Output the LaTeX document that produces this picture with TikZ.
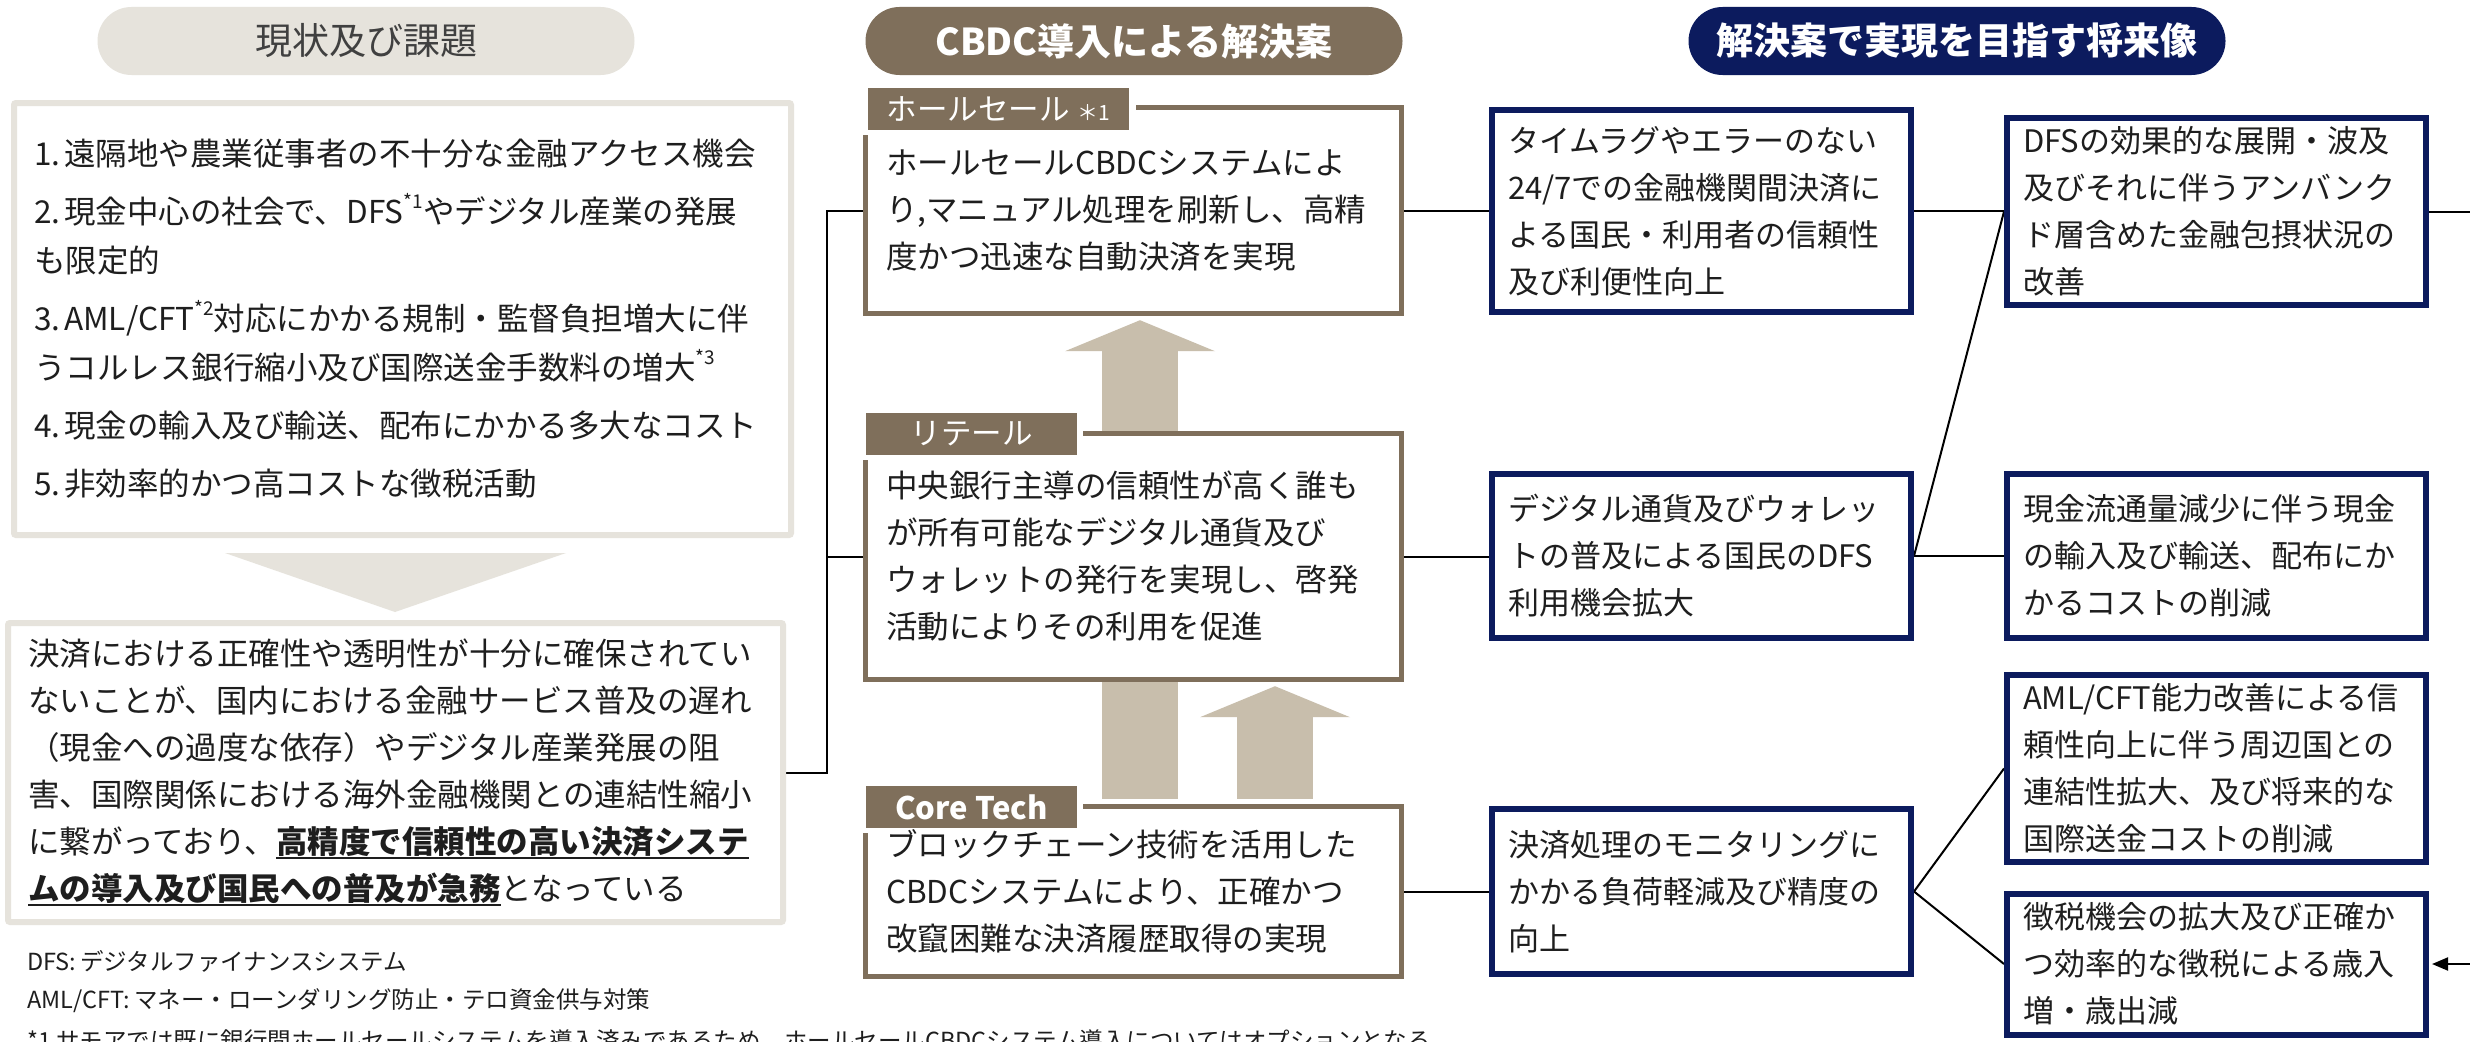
\documentclass[tikz,border=0pt]{standalone}
\usepackage{fontspec}
\setmainfont{Noto Sans CJK JP}
\usetikzlibrary{calc,arrows.meta,backgrounds}

\definecolor{paleline}{RGB}{230,227,220}
\definecolor{umber}{RGB}{127,111,91}
\definecolor{sand}{RGB}{200,190,172}
\definecolor{deepnavy}{RGB}{12,27,94}
\definecolor{ink}{RGB}{30,30,30}
\definecolor{graytext}{RGB}{64,64,64}

\newcommand{\bodyfont}{\fontsize{31.5pt}{47pt}\selectfont}
\newcommand{\supnote}[1]{\raisebox{0.5em}{\fontsize{19pt}{19pt}\selectfont #1}}
\newsavebox{\keybox}
\newcommand{\keyline}[1]{\leavevmode\sbox{\keybox}{\bfseries #1}\rlap{\rule[-6pt]{\wd\keybox}{2.5pt}}\usebox{\keybox}}

\tikzset{
  pill/.style={rounded corners=34pt, minimum width=537pt, minimum height=68pt, inner sep=0pt,
    font=\fontsize{37pt}{40pt}\selectfont},
  issuebox/.style={draw=paleline, line width=6pt, fill=white, rounded corners=2pt,
    inner xsep=20pt, inner ysep=0pt, align=left, font=\bodyfont, text=ink},
  cbdcbox/.style={fill=white, minimum width=535pt, text width=495pt, inner xsep=20pt,
    inner ysep=0pt, align=left, font=\bodyfont, text=ink},
  cbdcframe/.style={draw=umber, line width=5pt},
  tagbox/.style={fill=umber, text=white, anchor=north west, minimum height=42pt, inner sep=0pt,
    font=\fontsize{30.5pt}{32pt}\selectfont},
  goalbox/.style={draw=deepnavy, line width=6pt, fill=white, minimum width=419pt, text width=387pt,
    inner xsep=16pt, inner ysep=0pt, align=left, font=\fontsize{31pt}{47pt}\selectfont, text=ink},
  bigarrow/.style={draw=sand, line width=76pt, -{Triangle[length=31pt,width=149pt]}},
  link/.style={draw=black, line width=2pt},
  note/.style={anchor=west, inner sep=0pt, font=\fontsize{23.5pt}{28pt}\selectfont, text=ink}
}

\begin{document}
\begin{tikzpicture}[x=1pt,y=-1pt]
  \useasboundingbox (0,0) rectangle (2470,1041);

  % Encabezados
  \node[pill, fill=paleline, text=graytext] (h1) at (366,41) {現状及び課題};
  \node[pill, fill=umber, text=white, font=\fontsize{37pt}{40pt}\selectfont\bfseries] (h2) at (1134,41) {CBDC導入による解決案};
  \node[pill, fill=deepnavy, text=white, font=\fontsize{37pt}{40pt}\selectfont\bfseries] (h3) at (1957,41) {解決案で実現を目指す将来像};

  % Situacion actual
  \node[issuebox, text width=737pt, minimum height=432pt, font=\fontsize{31.5pt}{49pt}\selectfont] (issues) at (402.5,319) {%
    1.\hspace{4pt}遠隔地や農業従事者の不十分な金融アクセス機会\\[9pt]
    2.\hspace{4pt}現金中心の社会で、DFS\supnote{*1}やデジタル産業の発展\\
    も限定的\\[9pt]
    3.\hspace{4pt}AML/CFT\supnote{*2}対応にかかる規制・監督負担増大に伴\\
    うコルレス銀行縮小及び国際送金手数料の増大\supnote{*3}\\[9pt]
    4.\hspace{4pt}現金の輸入及び輸送、配布にかかる多大なコスト\\[9pt]
    5.\hspace{4pt}非効率的かつ高コストな徴税活動};
  \fill[paleline] (225,553) -- (566,553) -- (395,612) -- cycle;
  \node[issuebox, text width=735pt, minimum height=299pt] (cause) at (395.5,772.5) {%
    決済における正確性や透明性が十分に確保されてい\\
    ないことが、国内における金融サービス普及の遅れ\\
    （現金への過度な依存）やデジタル産業発展の阻\\
    害、国際関係における海外金融機関との連結性縮小\\
    に繋がっており、\keyline{高精度で信頼性の高い決済システ}\\
    \keyline{ムの導入及び国民への普及が急務}となっている};

  % Notas
  \node[note] (n1) at (27,961) {DFS:\hspace{4pt}デジタルファイナンスシステム};
  \node[note] (n2) at (27,1001) {AML/CFT:\hspace{4pt}マネー・ローンダリング防止・テロ資金供与対策};
  \node[note] (n3) at (27,1041) {*1 サモアでは既に銀行間ホールセールシステムを導入済みであるため、ホールセールCBDCシステム導入についてはオプションとなる};

  % Propuesta CBDC
  \node[cbdcbox, minimum height=205pt] (whole) at (1133.5,210.5) {%
    ホールセールCBDCシステムによ\\
    り,マニュアル処理を刷新し、高精\\
    度かつ迅速な自動決済を実現};
  \node[cbdcbox, minimum height=245pt] (retail) at (1133.5,556.5) {%
    中央銀行主導の信頼性が高く誰も\\
    が所有可能なデジタル通貨及び\\
    ウォレットの発行を実現し、啓発\\
    活動によりその利用を促進};
  \node[cbdcbox, minimum height=169pt] (core) at (1133.5,891.5) {%
    ブロックチェーン技術を活用した\\
    CBDCシステムにより、正確かつ\\
    改竄困難な決済履歴取得の実現};
  \node[tagbox, minimum width=261pt] (wtag) at ($(whole.north west)+(2,-20)$)
    {ホールセール\hspace{8pt}{\fontsize{21pt}{21pt}\selectfont ＊1}};
  \node[tagbox, minimum width=211pt] (rtag) at ($(retail.north west)+(0,-21)$) {リテール};
  \node[tagbox, minimum width=211pt, font=\fontsize{31pt}{32pt}\selectfont\bfseries] (ctag) at ($(core.north west)+(0,-21)$) {Core Tech};
  \draw[cbdcframe] ($(wtag.east |- whole.north)+(7,0)$) -| (whole.south east) -| ($(whole.west |- wtag.south)+(0,5)$);
  \draw[cbdcframe] ($(rtag.east |- retail.north)+(6,0)$) -| (retail.south east) -| ($(retail.west |- rtag.south)+(0,5)$);
  \draw[cbdcframe] ($(ctag.east |- core.north)+(6,0)$) -| (core.south east) -| ($(core.west |- ctag.south)+(0,5)$);

  % Futuro
  \node[goalbox, minimum height=202pt] (gA) at (1701.5,211) {%
    タイムラグやエラーのない\\24/7での金融機関間決済に\\よる国民・利用者の信頼性\\及び利便性向上};
  \node[goalbox, minimum height=164pt] (gB) at (1701.5,556) {%
    デジタル通貨及びウォレッ\\トの普及による国民のDFS\\利用機会拡大};
  \node[goalbox, minimum height=165pt] (gC) at (1701.5,891.5) {%
    決済処理のモニタリングに\\かかる負荷軽減及び精度の\\向上};
  \node[goalbox, minimum height=187pt] (gD) at (2216.5,211.5) {%
    DFSの効果的な展開・波及\\及びそれに伴うアンバンク\\ド層含めた金融包摂状況の\\改善};
  \node[goalbox, minimum height=164pt] (gE) at (2216.5,556) {%
    現金流通量減少に伴う現金\\の輸入及び輸送、配布にか\\かるコストの削減};
  \node[goalbox, minimum height=187pt] (gF) at (2216.5,768.5) {%
    AML/CFT能力改善による信\\頼性向上に伴う周辺国との\\連結性拡大、及び将来的な\\国際送金コストの削減};
  \node[goalbox, minimum height=141pt] (gG) at (2216.5,964) {%
    徴税機会の拡大及び正確か\\つ効率的な徴税による歳入\\増・歳出減};

  % Flechas y conexiones
  \coordinate (trunk) at (827,0);
  \coordinate (outD) at (2470,211.5);
  \coordinate (inG) at (2470,964);
  \begin{scope}[on background layer]
    \fill[white] (0,0) rectangle (2470,1041);
    \draw[bigarrow] ($(core.north)+(6.5,-8)$) -- ($(whole.south)+(6.5,7)$);
    \draw[bigarrow] ($(core.north)+(141.5,-8)$) -- ($(retail.south)+(141.5,7)$);
    \draw[link] (cause.east) -| (trunk |- whole.west) -- (whole.west);
    \draw[link] (trunk |- retail.west) -- (retail.west);
    \draw[link] (whole.east) -- (whole.east -| gA.west);
    \draw[link] (retail.east) -- (retail.east -| gB.west);
    \draw[link] (core.east) -- (core.east -| gC.west);
    \draw[link] (gA.east) -- (gA.east -| gD.west);
    \draw[link] (gB.east) -- (gD.west);
    \draw[link] (gB.east) -- (gB.east -| gE.west);
    \draw[link] (gC.east) -- (gF.west);
    \draw[link] (gC.east) -- (gG.west);
    \draw[link] (gD.east) -- (outD);
    \draw[link, -{Triangle[length=16pt,width=13pt]}] (inG) -- ($(gG.east)+(3,0)$);
  \end{scope}
\end{tikzpicture}
\end{document}
